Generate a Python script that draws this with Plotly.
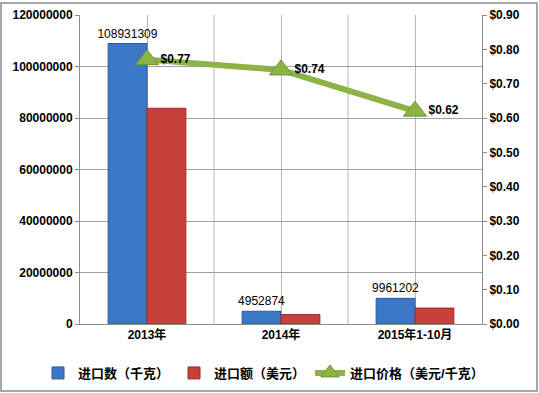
import plotly.graph_objects as go

categories = ["2013年", "2014年", "2015年1-10月"]
quantity = [108931309, 4952874, 9961202]
value_usd = [83800000, 3660000, 6180000]
price = [0.77, 0.74, 0.62]
quantity_labels = ["108931309", "4952874", "9961202"]
price_labels = ["$0.77", "$0.74", "$0.62"]

FONT = "Liberation Sans, Noto Sans CJK SC"
W, H = 539, 393
L, R, T, B = 80, 57, 15, 69

fig = go.Figure()
fig.add_trace(go.Bar(
    x=categories, y=quantity, name="进口数（千克）",
    marker=dict(color="#3b78c8", line=dict(color="#2a5a9e", width=1)),
    text=quantity_labels, textposition="outside", cliponaxis=False,
    constraintext="none",
    textfont=dict(family=FONT, size=12, color="#000000"),
))
fig.add_trace(go.Bar(
    x=categories, y=value_usd, name="进口额（美元）",
    marker=dict(color="#c8403a", line=dict(color="#9a2c28", width=1)),
))
fig.add_trace(go.Scatter(
    x=categories, y=price, name="进口价格（美元/千克）", yaxis="y2",
    mode="lines+markers+text",
    line=dict(color="#8db346", width=6),
    marker=dict(symbol="triangle-up", size=20, color="#8db346",
                line=dict(color="#6e9630", width=1)),
    text=price_labels, textposition="middle right",
    textfont=dict(family=FONT, size=12, color="#000000", weight="bold"),
    cliponaxis=False,
))

pw = W - L - R
ph = H - T - B
def px_x(p):
    return (p - L) / pw
def px_y(p):
    return (H - B - p) / ph

shapes = [
    dict(type="rect", xref="paper", yref="paper",
         x0=px_x(1), x1=px_x(537), y0=px_y(391), y1=px_y(3),
         line=dict(color="#8c8c8c", width=1.5), layer="below"),
]
for b in [0.5, 1.5]:
    shapes.append(dict(type="line", xref="x", yref="paper", x0=b, x1=b, y0=0, y1=1,
                       line=dict(color="#b4b4b4", width=1), layer="below"))

tf = dict(family=FONT, size=12, color="#000000", weight="bold")

fig.update_layout(
    width=W, height=H,
    margin=dict(l=L, r=R, t=T, b=B, autoexpand=False),
    paper_bgcolor="white", plot_bgcolor="white",
    barmode="group", bargap=0.42, bargroupgap=0,
    font=dict(family=FONT, size=12, color="#000000"),
    showlegend=True,
    legend=dict(orientation="h", x=px_x(38), xanchor="left", y=px_y(358), yanchor="top",
                font=dict(family=FONT, size=13, weight="bold"),
                itemwidth=30, tracegroupgap=0,
                traceorder="normal"),
    xaxis=dict(showgrid=True, gridcolor="#b4b4b4", showline=True, linecolor="#8c8c8c",
               tickfont=tf, ticks="", range=[-0.5, 2.5], automargin=False),
    yaxis=dict(range=[0, 120000000], dtick=20000000, tickformat="d",
               showgrid=True, gridcolor="#a0a0a0", showline=True, linecolor="#8c8c8c",
               ticks="outside", ticklen=4, tickcolor="#8c8c8c",
               tickfont=tf, zeroline=False, automargin=False),
    yaxis2=dict(range=[0, 0.9], dtick=0.1, tickformat="$.2f", overlaying="y", side="right",
                showgrid=False, showline=True, linecolor="#8c8c8c",
                ticks="outside", ticklen=4, tickcolor="#8c8c8c",
                tickfont=tf, zeroline=False, automargin=False),
    shapes=shapes,
)

fig.write_html("out.html", config={"displayModeBar": False},
               post_script="document.body.style.margin='0';")
